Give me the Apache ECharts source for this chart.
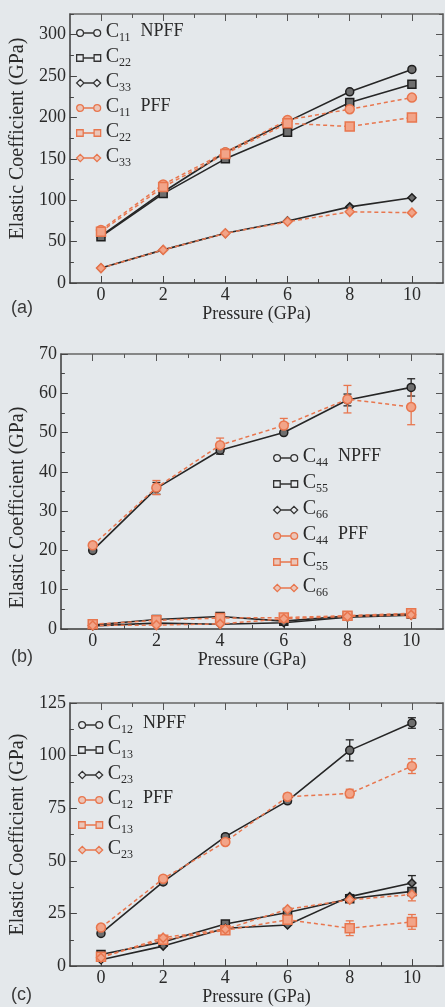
<!DOCTYPE html>
<html>
<head>
<meta charset="utf-8">
<script src="https://cdn.jsdelivr.net/npm/echarts@6/dist/echarts.min.js"></script>
<style>
html, body { margin: 0; padding: 0; background: #e4e8eb; }
#chart { width: 445px; height: 1007px; }
</style>
</head>
<body>
<div id="chart"></div>
<script>
// pressure points (GPa)
var pressure = [0, 2, 4, 6, 8, 10];

// (a) diagonal coefficients
var a_C11_NPFF = [57, 110, 158, 195, 231, 258];
var a_C22_NPFF = [56, 108, 150, 182, 218, 240];
var a_C33_NPFF = [18, 40, 60, 75, 92, 103];
var a_C11_PFF = [64, 119, 158, 197, 210, 224];
var a_C22_PFF = [62, 116, 156, 193, 189, 200];
var a_C33_PFF = [18, 40, 60, 74, 86, 85];

// (b) shear coefficients
var b_C44_NPFF = [20, 35.8, 45.5, 50, 58.3, 61.5];
var b_C55_NPFF = [1.0, 2.4, 3.2, 2.0, 3.3, 3.8];
var b_C66_NPFF = [0.8, 1.5, 1.2, 1.6, 3.0, 3.5];
var b_C44_PFF = [21.3, 36, 46.8, 51.8, 58.5, 56.5];
var b_C55_PFF = [1.2, 2.2, 2.8, 2.9, 3.4, 4.0];
var b_C66_PFF = [0.9, 1.0, 1.3, 2.6, 3.2, 3.6];
var b_C44_NPFF_err = [0, 1.5, 1, 0, 1.5, 2.2];
var b_C44_PFF_err = [0, 1.8, 1.8, 1.8, 3.5, 4.5];

// (c) off-diagonal coefficients
var c_C12_NPFF = [15.5, 40, 61.5, 78.5, 102.5, 115.5];
var c_C13_NPFF = [5.5, 11.5, 20, 25.5, 32, 35.5];
var c_C23_NPFF = [3, 9.5, 18, 19.5, 33, 39.5];
var c_C12_PFF = [18.3, 41.5, 59, 80.5, 82, 95];
var c_C13_PFF = [4.5, 12.5, 17, 22, 18, 21];
var c_C23_PFF = [4, 13.5, 17.5, 27, 31.5, 34];
var c_C12_NPFF_err = [0, 1, 1, 1, 5, 2.5];
var c_C12_PFF_err = [0, 1, 1, 1.5, 2, 3.5];
var c_C23_NPFF_err = [0, 0, 0, 0, 1, 3.5];
var c_C13_PFF_err = [0, 0, 0, 0, 3.5, 3.5];
var c_C23_PFF_err = [0, 0, 0, 0, 1, 3];

// axis ticks
var xMajor = [0, 2, 4, 6, 8, 10];
var xMinor = [1, 3, 5, 7, 9];
var yMajorA = [0, 50, 100, 150, 200, 250, 300];
var yMinorA = [25, 75, 125, 175, 225, 275, 325];
var yMajorB = [0, 10, 20, 30, 40, 50, 60, 70];
var yMinorB = [5, 15, 25, 35, 45, 55, 65];
var yMajorC = [0, 25, 50, 75, 100, 125];
var yMinorC = [12.5, 37.5, 62.5, 87.5, 112.5];

var SERIF = "'Liberation Serif', 'Times New Roman', serif";
var TXT = '#2a2a2a';
var DARK = '#262626';
var ORANGE = '#e8764e';

var grids = [
    { left: 66, top: 14, width: 377, height: 269 },
    { left: 57, top: 354, width: 386, height: 275 },
    { left: 66, top: 703, width: 377, height: 266 }
];
var yRanges = [[0, 325], [0, 70], [0, 125]];
var yMajors = [yMajorA, yMajorB, yMajorC];
var yMinors = [yMinorA, yMinorB, yMinorC];
var yNameGap = [38, 29, 38];
var yNamePad = [[0, 0, 0, 20], [0, 32, 0, 0], [0, 0, 0, 0]];

var xAxes = [], yAxes = [];
for (var g = 0; g < 3; g++) {
    xAxes.push({
        gridIndex: g, type: 'value', min: -1, max: 11, position: 'bottom',
        axisLine: { onZero: false, lineStyle: { color: '#3a3a3a', width: 1.5 } },
        axisTick: { inside: true, length: 7, customValues: xMajor, lineStyle: { color: '#444' } },
        axisLabel: { customValues: xMajor, margin: 3, fontFamily: SERIF, fontSize: 18, color: TXT },
        splitLine: { show: false },
        name: 'Pressure (GPa)', nameLocation: 'middle', nameGap: g == 0 ? 17 : 18,
        nameTextStyle: { fontFamily: SERIF, fontSize: 18, color: TXT }
    });
    xAxes.push({
        gridIndex: g, type: 'value', min: -1, max: 11, position: 'bottom',
        axisLine: { show: false, onZero: false },
        axisTick: { inside: true, length: 4, customValues: xMinor, lineStyle: { color: '#444' } },
        axisLabel: { show: false }, splitLine: { show: false }
    });
    xAxes.push({
        gridIndex: g, type: 'value', min: -1, max: 11, position: 'top',
        axisLine: { onZero: false, lineStyle: { color: '#666', width: 1.5 } },
        axisTick: { inside: true, length: 7, customValues: xMajor, lineStyle: { color: '#555' } },
        axisLabel: { show: false }, splitLine: { show: false }
    });
    xAxes.push({
        gridIndex: g, type: 'value', min: -1, max: 11, position: 'top',
        axisLine: { show: false, onZero: false },
        axisTick: { inside: true, length: 4, customValues: xMinor, lineStyle: { color: '#555' } },
        axisLabel: { show: false }, splitLine: { show: false }
    });

    yAxes.push({
        gridIndex: g, type: 'value', min: yRanges[g][0], max: yRanges[g][1], position: 'left',
        axisLine: { onZero: false, lineStyle: { color: '#3a3a3a', width: 1.5 } },
        axisTick: { inside: true, length: 7, customValues: yMajors[g], lineStyle: { color: '#444' } },
        axisLabel: { customValues: yMajors[g], margin: 4, fontFamily: SERIF, fontSize: 18, color: TXT },
        splitLine: { show: false },
        name: 'Elastic Coefficient (GPa)', nameLocation: 'middle', nameGap: yNameGap[g],
        nameTextStyle: { fontFamily: SERIF, fontSize: 20, color: TXT, padding: yNamePad[g] }
    });
    yAxes.push({
        gridIndex: g, type: 'value', min: yRanges[g][0], max: yRanges[g][1], position: 'left',
        axisLine: { show: false, onZero: false },
        axisTick: { inside: true, length: 4, customValues: yMinors[g], lineStyle: { color: '#444' } },
        axisLabel: { show: false }, splitLine: { show: false }
    });
    yAxes.push({
        gridIndex: g, type: 'value', min: yRanges[g][0], max: yRanges[g][1], position: 'right',
        axisLine: { onZero: false, lineStyle: { color: '#555', width: 1.5 } },
        axisTick: { inside: true, length: 7, customValues: yMajors[g], lineStyle: { color: '#555' } },
        axisLabel: { show: false }, splitLine: { show: false }
    });
    yAxes.push({
        gridIndex: g, type: 'value', min: yRanges[g][0], max: yRanges[g][1], position: 'right',
        axisLine: { show: false, onZero: false },
        axisTick: { inside: true, length: 4, customValues: yMinors[g], lineStyle: { color: '#555' } },
        axisLabel: { show: false }, splitLine: { show: false }
    });
}

function pts(vals) {
    var out = [];
    for (var i = 0; i < vals.length; i++) out.push([pressure[i], vals[i]]);
    return out;
}

function lineSeries(name, vals, g, symbol, pff) {
    return {
        name: name, type: 'line', xAxisIndex: g * 4, yAxisIndex: g * 4,
        data: pts(vals), symbol: symbol, symbolSize: pff ? 9 : 8,
        lineStyle: pff ? { color: ORANGE, width: 1.5, type: [4, 3] } : { color: DARK, width: 1.6 },
        itemStyle: pff ? { color: '#f2a488', borderColor: ORANGE, borderWidth: 1.5 }
                       : { color: '#6e6e6e', borderColor: '#1e1e1e', borderWidth: 1.5 },
        z: pff ? 4 : 3, silent: true, animation: false
    };
}

function errSeries(vals, errs, g, color) {
    var d = [];
    for (var i = 0; i < vals.length; i++) {
        if (errs[i] > 0) d.push([pressure[i], vals[i] - errs[i], vals[i] + errs[i]]);
    }
    return {
        type: 'custom', xAxisIndex: g * 4, yAxisIndex: g * 4, data: d, z: 2, silent: true,
        encode: { x: 0, y: [1, 2] }, animation: false,
        renderItem: function (params, api) {
            var lo = api.coord([api.value(0), api.value(1)]);
            var hi = api.coord([api.value(0), api.value(2)]);
            var w = 4, st = { stroke: color, lineWidth: 1.3 };
            return {
                type: 'group', children: [
                    { type: 'line', shape: { x1: lo[0], y1: lo[1], x2: hi[0], y2: hi[1] }, style: st },
                    { type: 'line', shape: { x1: lo[0] - w, y1: lo[1], x2: lo[0] + w, y2: lo[1] }, style: st },
                    { type: 'line', shape: { x1: hi[0] - w, y1: hi[1], x2: hi[0] + w, y2: hi[1] }, style: st }
                ]
            };
        }
    };
}

var ICON = {
    circle: 'path://M0.8,4a3.2,3.2 0 1,0 6.4,0a3.2,3.2 0 1,0 -6.4,0M7.2,4L16.8,4M16.8,4a3.2,3.2 0 1,0 6.4,0a3.2,3.2 0 1,0 -6.4,0',
    rect: 'path://M1,1h6v6h-6ZM7,4L17,4M17,1h6v6h-6Z',
    diamond: 'path://M4,0.5L7.5,4L4,7.5L0.5,4ZM7.5,4L16.5,4M20,0.5L23.5,4L20,7.5L16.5,4Z'
};
var suffixShown = ['C11 NPFF', 'C11 PFF', 'C44 NPFF', 'C44 PFF', 'C12 NPFF', 'C12 PFF'];

function legendItem(name, icon, pff) {
    return {
        name: name, icon: ICON[icon],
        itemStyle: pff ? { color: 'rgba(242,164,136,0.5)', borderColor: ORANGE, borderWidth: 1.3 }
                       : { color: 'rgba(255,255,255,0.15)', borderColor: '#333', borderWidth: 1.3 }
    };
}

var rich = {
    c: { fontFamily: SERIF, fontSize: 20, lineHeight: 22, verticalAlign: 'top', color: TXT },
    s: { fontFamily: SERIF, fontSize: 12, lineHeight: 12, verticalAlign: 'bottom', color: TXT },
    n: { fontFamily: SERIF, fontSize: 18, lineHeight: 22, verticalAlign: 'top', color: TXT, padding: [0, 0, 0, 10] }
};

function legendText(name) {
    var parts = name.split(' ');
    var s = '{c|C}{s|' + parts[0].slice(1) + '}';
    if (suffixShown.indexOf(name) > -1) s += '{n|' + parts[1] + '}';
    return s;
}

function legendFor(names, left, top, gap) {
    var icons = ['circle', 'rect', 'diamond', 'circle', 'rect', 'diamond'];
    var data = [];
    for (var i = 0; i < names.length; i++) data.push(legendItem(names[i], icons[i], i >= 3));
    return {
        orient: 'vertical', left: left, top: top, padding: 0, itemWidth: 24, itemHeight: 8,
        itemGap: gap, selectedMode: false, data: data, formatter: legendText,
        textStyle: { rich: rich }
    };
}

var series = [
    lineSeries('C11 NPFF', a_C11_NPFF, 0, 'circle', false),
    lineSeries('C22 NPFF', a_C22_NPFF, 0, 'rect', false),
    lineSeries('C33 NPFF', a_C33_NPFF, 0, 'diamond', false),
    lineSeries('C11 PFF', a_C11_PFF, 0, 'circle', true),
    lineSeries('C22 PFF', a_C22_PFF, 0, 'rect', true),
    lineSeries('C33 PFF', a_C33_PFF, 0, 'diamond', true),

    errSeries(b_C44_NPFF, b_C44_NPFF_err, 1, DARK),
    errSeries(b_C44_PFF, b_C44_PFF_err, 1, ORANGE),
    lineSeries('C44 NPFF', b_C44_NPFF, 1, 'circle', false),
    lineSeries('C55 NPFF', b_C55_NPFF, 1, 'rect', false),
    lineSeries('C66 NPFF', b_C66_NPFF, 1, 'diamond', false),
    lineSeries('C44 PFF', b_C44_PFF, 1, 'circle', true),
    lineSeries('C55 PFF', b_C55_PFF, 1, 'rect', true),
    lineSeries('C66 PFF', b_C66_PFF, 1, 'diamond', true),

    errSeries(c_C12_NPFF, c_C12_NPFF_err, 2, DARK),
    errSeries(c_C23_NPFF, c_C23_NPFF_err, 2, DARK),
    errSeries(c_C12_PFF, c_C12_PFF_err, 2, ORANGE),
    errSeries(c_C13_PFF, c_C13_PFF_err, 2, ORANGE),
    errSeries(c_C23_PFF, c_C23_PFF_err, 2, ORANGE),
    lineSeries('C12 NPFF', c_C12_NPFF, 2, 'circle', false),
    lineSeries('C13 NPFF', c_C13_NPFF, 2, 'rect', false),
    lineSeries('C23 NPFF', c_C23_NPFF, 2, 'diamond', false),
    lineSeries('C12 PFF', c_C12_PFF, 2, 'circle', true),
    lineSeries('C13 PFF', c_C13_PFF, 2, 'rect', true),
    lineSeries('C23 PFF', c_C23_PFF, 2, 'diamond', true)
];

var panelLabel = { fontFamily: "'Liberation Sans', Arial, sans-serif", fontSize: 18, fontWeight: 'normal', color: '#3a3a3a' };

var option = {
    backgroundColor: '#e4e8eb',
    animation: false,
    title: [
        { text: '(a)', left: 11, top: 299, padding: 0, textStyle: panelLabel },
        { text: '(b)', left: 11, top: 648, padding: 0, textStyle: panelLabel },
        { text: '(c)', left: 11, top: 986, padding: 0, textStyle: panelLabel }
    ],
    grid: grids,
    xAxis: xAxes,
    yAxis: yAxes,
    legend: [
        legendFor(['C11 NPFF', 'C22 NPFF', 'C33 NPFF', 'C11 PFF', 'C22 PFF', 'C33 PFF'], 76, 22, 3),
        legendFor(['C44 NPFF', 'C55 NPFF', 'C66 NPFF', 'C44 PFF', 'C55 PFF', 'C66 PFF'], 273, 447, 4),
        legendFor(['C12 NPFF', 'C13 NPFF', 'C23 NPFF', 'C12 PFF', 'C13 PFF', 'C23 PFF'], 78, 714, 3)
    ],
    series: series
};

var myChart = echarts.init(document.getElementById('chart'));
myChart.setOption(option);
</script>
</body>
</html>
